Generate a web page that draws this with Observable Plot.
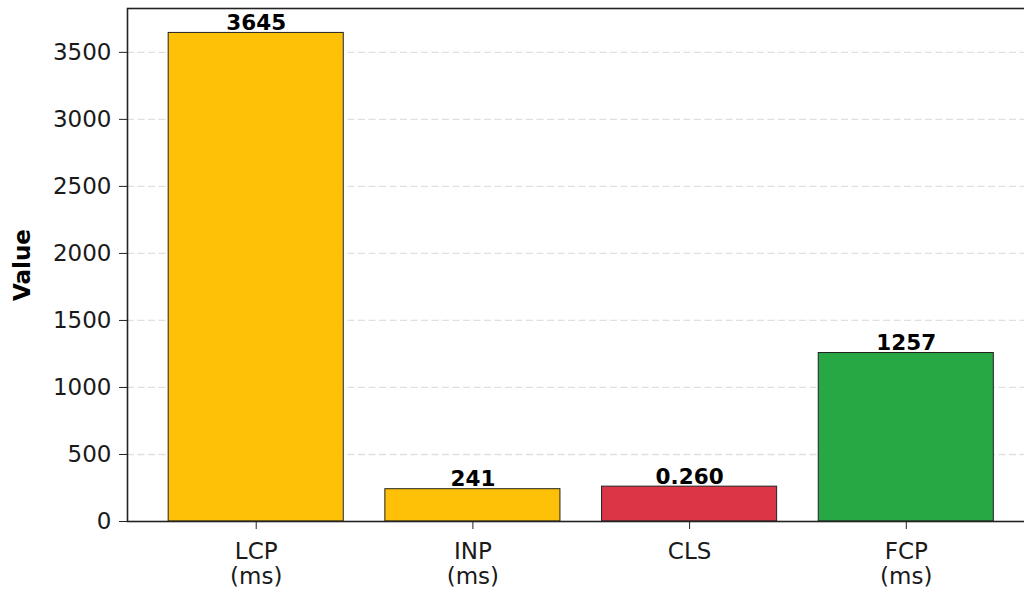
<!DOCTYPE html>
<html>
<head>
<meta charset="utf-8">
<script src="https://cdn.jsdelivr.net/npm/d3@7"></script>
<script src="https://cdn.jsdelivr.net/npm/@observablehq/plot@0.6"></script>
<style>
  html, body { margin: 0; padding: 0; background: #fff; overflow: hidden; }
  #chart svg { display: block; }
</style>
</head>
<body>
<div id="chart"></div>
<script>
// ---- data ----
const metrics = ["LCP", "INP", "CLS", "FCP"];
const units = ["(ms)", "(ms)", "", "(ms)"];
const values = [3645, 241, 0.26, 1257];
// CLS is unitless; it is drawn ×1000 so it shares the ms axis
const barHeights = [3645, 241, 260, 1257];
const valueLabels = ["3645", "241", "0.260", "1257"];
const barColors = ["#ffc107", "#ffc107", "#dc3545", "#28a745"];
const yTicks = [0, 500, 1000, 1500, 2000, 2500, 3000, 3500];
const gridTicks = [500, 1000, 1500, 2000, 2500, 3000, 3500];

const data = metrics.map((m, i) => ({
  metric: m,
  unit: units[i],
  value: values[i],
  h: barHeights[i],
  label: valueLabels[i],
  color: barColors[i]
}));

const font = "DejaVu Sans, sans-serif";

const chart = Plot.plot({
  width: 1024,
  height: 594,
  marginTop: 8,
  marginBottom: 73,
  marginLeft: 127,
  marginRight: -10.5,
  style: { fontFamily: font, background: "#fff", color: "#000", overflow: "hidden" },
  x: { domain: metrics, paddingInner: 0.192, paddingOuter: 0.19, round: false, axis: null },
  y: { domain: [0, 3645 * 1.05], axis: null },
  marks: [
    Plot.ruleY(gridTicks, { stroke: "#e0e0e0", strokeWidth: 1.3, strokeDasharray: "7,3.5" }),
    Plot.barY(data, {
      x: "metric", y: "h",
      fill: d => d.color,
      stroke: "#222", strokeWidth: 1
    }),
    Plot.text(data, {
      x: "metric", y: "h", text: "label",
      lineAnchor: "bottom", dy: -3,
      fontSize: 21.5, fontWeight: "bold", fill: "#000"
    }),
    Plot.frame({ stroke: "#222", strokeWidth: 1.6 }),
    Plot.axisY({
      ticks: yTicks, tickSize: 8, tickPadding: 8, tickFormat: d => String(d),
      fontSize: 23, label: null, stroke: "#222", color: "#1a1a1a"
    }),
    Plot.axisX({
      tickSize: 8, tickFormat: () => "", label: null, stroke: "#222"
    }),
    Plot.text(data, {
      x: "metric", y: 0,
      text: d => d.unit ? d.metric + "\n" + d.unit : d.metric,
      lineAnchor: "top", dy: 20, lineHeight: 1.09,
      fontSize: 23, fill: "#1a1a1a"
    }),
    Plot.text(["Value"], {
      frameAnchor: "left", dx: -105, rotate: -90, textAnchor: "middle", lineAnchor: "middle",
      fontSize: 23, fontWeight: "bold", fill: "#000"
    })
  ]
});

document.getElementById("chart").appendChild(chart);
</script>
</body>
</html>
